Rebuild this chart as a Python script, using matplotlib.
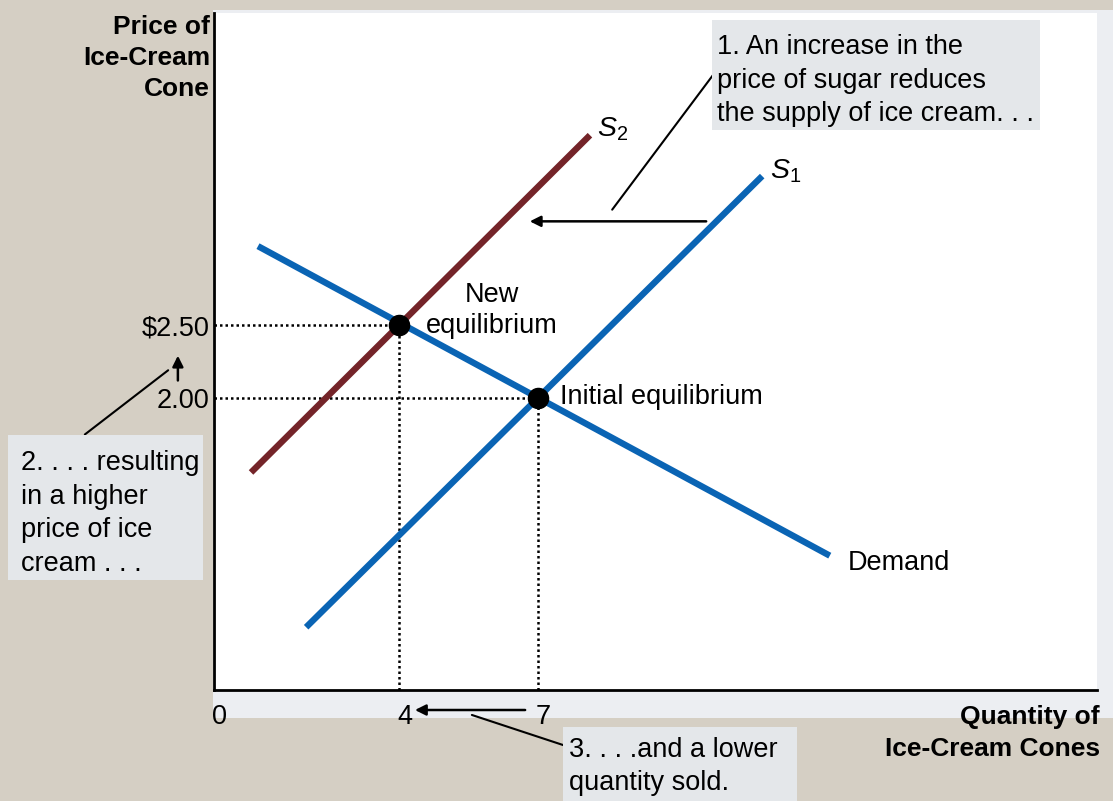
import matplotlib.pyplot as plt
import matplotlib.transforms as mtransforms
from matplotlib.patches import Rectangle

plt.rcParams["font.family"] = ["Liberation Sans", "DejaVu Sans"]
plt.rcParams["mathtext.fontset"] = "custom"
plt.rcParams["mathtext.it"] = "Liberation Sans:italic"
plt.rcParams["mathtext.rm"] = "Liberation Sans"

# equilibria (quantity, price)
eq_qty = [4, 7]
eq_price = [2.5, 2.0]

# curve end points
demand_q = [0.95, 13.3]
demand_p = [3.04, 0.92]
s1_q = [1.99, 11.84]
s1_p = [0.43, 3.52]
s2_q = [0.80, 8.12]
s2_p = [1.49, 3.80]

x_ticks = [0, 4, 7]
x_labels = ["0", "4", "7"]
y_ticks = [2.0, 2.5]
y_labels = ["2.00", r"\$2.50"]

BEIGE = "#d5cfc4"
PANEL = "#eceef2"
BOX = "#e4e7ea"
BLUE = "#0a64b4"
MAROON = "#742429"
FS = 19.5
LS = 1.37

W, H = 1113, 801
fig = plt.figure(figsize=(W / 100, H / 100), dpi=100, facecolor=BEIGE)


def fig_rect(x0, y0, x1, y1, color, z):
    # pixel box (top-left origin) -> figure fraction rectangle
    fig.patches.append(Rectangle((x0 / W, 1 - y1 / H), (x1 - x0) / W, (y1 - y0) / H,
                                 transform=fig.transFigure, facecolor=color,
                                 edgecolor="none", zorder=z))


def fig_text(x, y, s, **kw):
    fig.text(x / W, 1 - y / H, s, fontsize=kw.pop("fontsize", FS), va="center",
             linespacing=LS, **kw)


fig_rect(213, 10, 1113, 718, PANEL, -1)

ax = fig.add_axes([214 / W, 1 - 690 / H, (1097 - 214) / W, (690 - 13) / H])
ax.set_facecolor("white")
ax.set_xlim(0, (1097 - 214) / 46.3)
ax.set_ylim(0, (690 - 13) / 146)
for side in ["top", "right"]:
    ax.spines[side].set_visible(False)
for side in ["left", "bottom"]:
    ax.spines[side].set_linewidth(2)

ax.set_xticks(x_ticks)
ax.set_xticklabels(x_labels, fontsize=FS)
ax.set_yticks(y_ticks)
ax.set_yticklabels(y_labels, fontsize=FS)
ax.tick_params(axis="x", length=0, pad=10)
ax.tick_params(axis="y", length=0, pad=3)
shift = mtransforms.ScaledTranslation(4 / 72, 0, fig.dpi_scale_trans)
for lbl in ax.get_xticklabels():
    lbl.set_transform(lbl.get_transform() + shift)

# curves
ax.plot(demand_q, demand_p, color=BLUE, lw=4.6, solid_capstyle="butt")
ax.plot(s1_q, s1_p, color=BLUE, lw=4.6, solid_capstyle="butt")
ax.plot(s2_q, s2_p, color=MAROON, lw=4.6, solid_capstyle="butt")

# dotted guides
for q, p in zip(eq_qty, eq_price):
    ax.plot([0, q], [p, p], color="black", lw=1.8, ls=(0, (1, 1.2)), zorder=1)
    ax.plot([q, q], [0, p], color="black", lw=1.8, ls=(0, (1, 1.2)), zorder=1)
ax.scatter(eq_qty, eq_price, s=210, color="black", zorder=5)

# curve labels
ax.text(8.27, 3.84, r"$S_{\mathrm{2}}$", fontsize=FS + 1, va="center", ha="left")
ax.text(12.0, 3.55, r"$S_{\mathrm{1}}$", fontsize=FS + 1, va="center", ha="left")
ax.text(13.69, 0.87, "Demand", fontsize=FS, va="center", ha="left")
ax.text(6.0, 2.60, "New\nequilibrium", fontsize=FS, va="center", ha="center",
        linespacing=LS - 0.1)
ax.text(7.47, 2.01, "Initial equilibrium", fontsize=FS, va="center", ha="left")

# axis titles
fig_text(210, 58, "Price of\nIce-Cream\nCone", fontsize=FS - 0.5,
         fontweight="bold", ha="right")
fig_text(1100, 733, "Quantity of\nIce-Cream Cones", fontsize=FS - 0.5,
         fontweight="bold", ha="right")

# annotation boxes
fig_rect(712, 20, 1040, 130, BOX, 1)
fig_rect(8, 435, 203, 580, BOX, 1)
fig_rect(563, 727, 797, 801, BOX, 1)
fig_text(717, 80.5, "1. An increase in the\nprice of sugar reduces\nthe supply of ice cream. . .",
         ha="left", zorder=2)
fig_text(21, 513.5, "2. . . . resulting\nin a higher\nprice of ice\ncream . . .",
         ha="left", zorder=2)
fig_text(569, 766.5, "3. . . .and a lower\nquantity sold.", ha="left", zorder=2)

arrow = dict(arrowstyle="-|>", color="black", lw=1.8, mutation_scale=16,
             shrinkA=0, shrinkB=0)
line = dict(arrowstyle="-", color="black", lw=1.5, shrinkA=0, shrinkB=0)

# supply shift
ax.annotate("", xy=(6.82, 3.21), xytext=(10.63, 3.21), arrowprops=arrow)
ax.annotate("", xy=(8.60, 3.29), xytext=(10.82, 4.23), arrowprops=line,
            annotation_clip=False)
# price rise
ax.annotate("", xy=(-0.78, 2.29), xytext=(-0.78, 2.12), arrowprops=arrow,
            annotation_clip=False)
ax.annotate("", xy=(-0.99, 2.19), xytext=(-2.79, 1.75), arrowprops=line,
            annotation_clip=False)
# quantity fall
ax.annotate("", xy=(4.34, -0.137), xytext=(6.72, -0.137), arrowprops=arrow,
            annotation_clip=False)
ax.annotate("", xy=(5.57, -0.171), xytext=(7.54, -0.377), arrowprops=line,
            annotation_clip=False)

fig.savefig("out.png", dpi=100, facecolor=BEIGE)
